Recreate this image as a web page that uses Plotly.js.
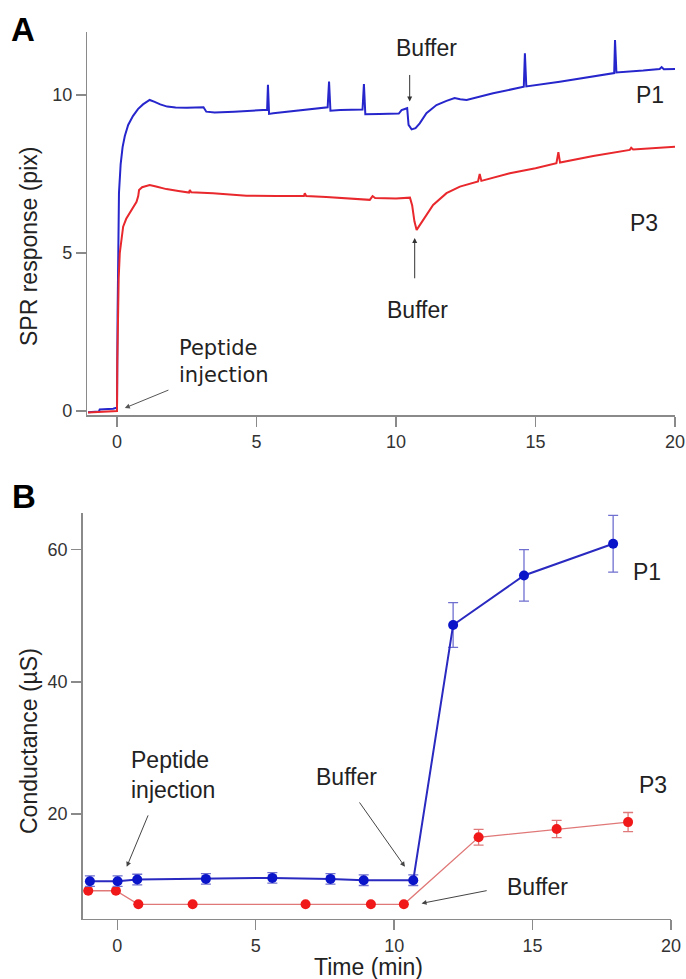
<!DOCTYPE html>
<html>
<head>
<meta charset="utf-8">
<script src="https://cdn.plot.ly/plotly-3.0.1.min.js"></script>
<style>
  html, body { margin: 0; padding: 0; background: #ffffff; }
  #chart { width: 686px; height: 979px; }
</style>
</head>
<body>
<div id="chart"></div>
<script>
// ---------- Panel A: SPR response (pix) vs time (min) ----------
var sprTimeP1 = [-1.04, -0.8, -0.65, -0.62, -0.4, -0.14, -0.02, 0.0, 0.02, 0.04, 0.07, 0.13, 0.2, 0.28, 0.4, 0.57, 0.75, 0.93, 1.17, 1.35, 1.55, 1.8, 2.1, 2.5, 2.85, 3.1, 3.2, 3.5, 4.2, 5.0, 5.38, 5.41, 5.45, 5.6, 6.5, 7.3, 7.55, 7.6, 7.65, 8.0, 8.8, 8.85, 8.9, 9.4, 10.1, 10.2, 10.4, 10.45, 10.56, 10.7, 10.85, 11.09, 11.45, 11.81, 12.1, 12.3, 12.53, 13.48, 14.58, 14.62, 14.67, 15.87, 17.07, 17.82, 17.85, 17.9, 18.86, 19.45, 19.52, 19.6, 20.0];
var sprP1 = [-0.04, -0.03, -0.02, 0.05, 0.06, 0.07, 0.10, 0.1, 3.0, 5.6, 6.9, 7.8, 8.35, 8.7, 9.05, 9.33, 9.55, 9.70, 9.84, 9.78, 9.70, 9.63, 9.60, 9.59, 9.60, 9.61, 9.47, 9.44, 9.47, 9.51, 9.53, 10.32, 9.40, 9.42, 9.50, 9.57, 9.61, 10.42, 9.50, 9.52, 9.54, 10.34, 9.39, 9.40, 9.41, 9.52, 9.58, 9.05, 8.91, 8.95, 9.10, 9.42, 9.68, 9.81, 9.90, 9.86, 9.84, 10.05, 10.26, 11.32, 10.27, 10.42, 10.58, 10.69, 11.74, 10.71, 10.77, 10.82, 10.88, 10.81, 10.82];

var sprTimeP3 = [-1.04, -0.5, -0.1, 0.0, 0.01, 0.03, 0.06, 0.1, 0.16, 0.22, 0.33, 0.46, 0.58, 0.7, 0.76, 0.79, 0.9, 1.05, 1.17, 1.4, 1.77, 2.2, 2.58, 2.61, 2.66, 3.44, 4.64, 5.7, 6.70, 6.73, 6.78, 7.5, 8.22, 9.06, 9.16, 9.25, 10.0, 10.5, 10.58, 10.66, 10.74, 10.97, 11.33, 11.81, 12.29, 12.94, 13.0, 13.06, 14.08, 15.0, 15.75, 15.82, 15.88, 17.07, 18.38, 18.43, 18.5, 20.0];
var sprP3 = [-0.05, -0.03, -0.02, 0.0, 1.5, 2.9, 4.2, 5.0, 5.5, 5.83, 6.08, 6.26, 6.45, 6.62, 6.8, 6.99, 7.08, 7.13, 7.15, 7.10, 7.02, 6.96, 6.91, 6.99, 6.92, 6.89, 6.81, 6.80, 6.80, 6.89, 6.80, 6.77, 6.73, 6.68, 6.80, 6.74, 6.72, 6.75, 6.5, 6.0, 5.73, 6.04, 6.52, 6.89, 7.10, 7.26, 7.50, 7.28, 7.52, 7.68, 7.84, 8.19, 7.86, 8.07, 8.26, 8.33, 8.27, 8.36];

// ---------- Panel B: Conductance (µS) vs time (min) ----------
var condTimeP1 = [-0.99, 0.01, 0.72, 3.2, 5.6, 7.7, 8.9, 10.69, 12.13, 14.69, 17.91];
var condP1 = [9.8, 9.8, 10.05, 10.15, 10.3, 10.15, 9.95, 9.95, 48.6, 56.1, 60.9];
var condErrP1 = [0.8, 0.8, 0.8, 0.8, 0.8, 0.8, 0.8, 0.8, 3.4, 3.9, 4.3];

var condTimeP3 = [-1.05, -0.05, 0.76, 2.72, 6.8, 9.16, 10.35, 13.05, 15.87, 18.45];
var condP3 = [8.35, 8.35, 6.3, 6.3, 6.3, 6.3, 6.3, 16.45, 17.7, 18.75];
var condErrP3 = [0, 0, 0, 0, 0, 0, 0, 1.2, 1.3, 1.45];

var xTicks = [0, 5, 10, 15, 20];
var yTicksA = [0, 5, 10];
var yTicksB = [20, 40, 60];

var BLUE = '#2626cc';
var RED = '#e8282c';
var AXIS = '#8a8a8a';
var TXT = '#222222';
var FONT = 'Liberation Sans, Arial, Helvetica, sans-serif';

var traces = [
  { x: sprTimeP1, y: sprP1, type: 'scatter', mode: 'lines', name: 'P1',
    line: { color: BLUE, width: 2 }, xaxis: 'x', yaxis: 'y' },
  { x: sprTimeP3, y: sprP3, type: 'scatter', mode: 'lines', name: 'P3',
    line: { color: RED, width: 2 }, xaxis: 'x', yaxis: 'y' },
  { x: condTimeP3, y: condP3, type: 'scatter', mode: 'lines+markers', name: 'P3',
    line: { color: '#e07878', width: 1.3 },
    marker: { color: '#f01818', size: 10 },
    error_y: { type: 'data', array: condErrP3, visible: true, color: '#e07a7a', thickness: 1.3, width: 5 },
    cliponaxis: false,
    xaxis: 'x2', yaxis: 'y2' },
  { x: condTimeP1, y: condP1, type: 'scatter', mode: 'lines+markers', name: 'P1',
    line: { color: '#2a2ac0', width: 2 },
    marker: { color: '#0a14c8', size: 10 },
    error_y: { type: 'data', array: condErrP1, visible: true, color: '#6f6fd0', thickness: 1.3, width: 5 },
    cliponaxis: false,
    xaxis: 'x2', yaxis: 'y2' }
];

function axisBase(extra) {
  var a = {
    showline: true, linecolor: AXIS, linewidth: 1.5,
    ticks: 'outside', ticklen: 10, tickwidth: 1.5, tickcolor: AXIS,
    showgrid: false, zeroline: false, automargin: false, fixedrange: true,
    tickfont: { family: FONT, size: 18, color: '#333333' }
  };
  for (var k in extra) a[k] = extra[k];
  return a;
}

var annFont = { family: FONT, size: 23, color: TXT };
var annotations = [
  // panel letters
  { xref: 'paper', yref: 'paper', x: 23 / 686, y: 1 - 30 / 979, text: '<b>A</b>', showarrow: false,
    font: { family: FONT, size: 33, color: '#000' }, xanchor: 'center', yanchor: 'middle' },
  { xref: 'paper', yref: 'paper', x: 24 / 686, y: 1 - 497 / 979, text: '<b>B</b>', showarrow: false,
    font: { family: FONT, size: 33, color: '#000' }, xanchor: 'center', yanchor: 'middle' },
  // axis titles
  { xref: 'paper', yref: 'paper', x: 29 / 686, y: 1 - 247 / 979, text: 'SPR response (pix)', textangle: -90,
    showarrow: false, font: annFont, xanchor: 'center', yanchor: 'middle' },
  { xref: 'paper', yref: 'paper', x: 29 / 686, y: 1 - 741 / 979, text: 'Conductance (µS)', textangle: -90,
    showarrow: false, font: annFont, xanchor: 'center', yanchor: 'middle' },
  { xref: 'paper', yref: 'paper', x: 368 / 686, y: 1 - 967 / 979, text: 'Time (min)',
    showarrow: false, font: annFont, xanchor: 'center', yanchor: 'middle' },

  // Panel A annotations
  { xref: 'x', yref: 'y', x: 11.09, y: 11.49, text: 'Buffer', showarrow: false, font: annFont, xanchor: 'center', yanchor: 'middle' },
  { xref: 'x', yref: 'y', x: 10.49, y: 9.79, axref: 'x', ayref: 'y', ax: 10.49, ay: 10.9, text: ' ', showarrow: true,
    arrowhead: 2, arrowsize: 1, arrowwidth: 1, arrowcolor: '#333' },
  { xref: 'x', yref: 'y', x: 10.78, y: 3.2, text: 'Buffer', showarrow: false, font: annFont, xanchor: 'center', yanchor: 'middle' },
  { xref: 'x', yref: 'y', x: 10.67, y: 5.47, axref: 'x', ayref: 'y', ax: 10.67, ay: 3.93, text: ' ', showarrow: true,
    arrowhead: 2, arrowsize: 1, arrowwidth: 1, arrowcolor: '#333' },
  { xref: 'x', yref: 'y', x: 2.15, y: 1.58, text: 'Peptide<br>injection', showarrow: false, align: 'left',
    font: { family: 'DejaVu Sans, Verdana, sans-serif', size: 21, color: TXT }, xanchor: 'left', yanchor: 'middle' },
  { xref: 'x', yref: 'y', x: 0.28, y: 0.095, axref: 'x', ayref: 'y', ax: 1.95, ay: 0.70, text: ' ', showarrow: true,
    arrowhead: 2, arrowsize: 1, arrowwidth: 1, arrowcolor: '#555' },
  { xref: 'x', yref: 'y', x: 19.1, y: 10.0, text: 'P1', showarrow: false, font: annFont, xanchor: 'center', yanchor: 'middle' },
  { xref: 'x', yref: 'y', x: 18.88, y: 5.95, text: 'P3', showarrow: false, font: annFont, xanchor: 'center', yanchor: 'middle' },

  // Panel B annotations
  { xref: 'x2', yref: 'y2', x: 0.42, y: 25.85, text: 'Peptide<br>injection', showarrow: false, align: 'left',
    font: annFont, xanchor: 'left', yanchor: 'middle' },
  { xref: 'x2', yref: 'y2', x: 0.34, y: 11.98, axref: 'x2', ayref: 'y2', ax: 1.22, ay: 20.86, text: ' ', showarrow: true,
    arrowhead: 2, arrowsize: 1, arrowwidth: 1, arrowcolor: '#444' },
  { xref: 'x2', yref: 'y2', x: 8.28, y: 25.6, text: 'Buffer', showarrow: false, font: annFont, xanchor: 'center', yanchor: 'middle' },
  { xref: 'x2', yref: 'y2', x: 10.39, y: 11.98, axref: 'x2', ayref: 'y2', ax: 8.64, ay: 22.37, text: ' ', showarrow: true,
    arrowhead: 2, arrowsize: 1, arrowwidth: 1, arrowcolor: '#444' },
  { xref: 'x2', yref: 'y2', x: 15.19, y: 8.96, text: 'Buffer', showarrow: false, font: annFont, xanchor: 'center', yanchor: 'middle' },
  { xref: 'x2', yref: 'y2', x: 10.99, y: 6.44, axref: 'x2', ayref: 'y2', ax: 13.45, ay: 8.46, text: ' ', showarrow: true,
    arrowhead: 2, arrowsize: 1, arrowwidth: 1, arrowcolor: '#444' },
  { xref: 'x2', yref: 'y2', x: 19.14, y: 56.6, text: 'P1', showarrow: false, font: annFont, xanchor: 'center', yanchor: 'middle' },
  { xref: 'x2', yref: 'y2', x: 19.34, y: 24.34, text: 'P3', showarrow: false, font: annFont, xanchor: 'center', yanchor: 'middle' }
];

var layout = {
  width: 686, height: 979,
  margin: { l: 0, r: 0, t: 0, b: 0, pad: 0 },
  paper_bgcolor: '#ffffff', plot_bgcolor: '#ffffff',
  showlegend: false,
  font: { family: FONT, color: TXT },
  xaxis: axisBase({ domain: [87.3 / 686, 675 / 686], range: [-1.065, 20], tickvals: xTicks, anchor: 'y' }),
  yaxis: axisBase({ domain: [1 - 415 / 979, 1 - 31.7 / 979], range: [-0.127, 12], tickvals: yTicksA, anchor: 'x' }),
  xaxis2: axisBase({ domain: [82.7 / 686, 671 / 686], range: [-1.25, 20], tickvals: xTicks, anchor: 'y2' }),
  yaxis2: axisBase({ domain: [1 - 918.5 / 979, 1 - 513.4 / 979], range: [4.15, 65.5], tickvals: yTicksB, anchor: 'x2' }),
  annotations: annotations
};

Plotly.newPlot('chart', traces, layout, { staticPlot: true, displayModeBar: false });
</script>
</body>
</html>
